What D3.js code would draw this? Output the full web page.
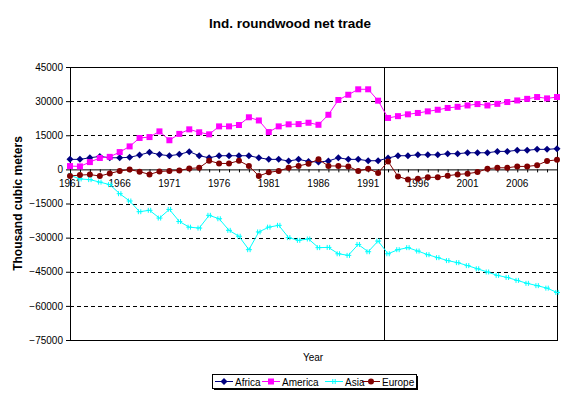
<!DOCTYPE html>
<html>
<head>
<meta charset="utf-8">
<script src="https://cdn.jsdelivr.net/npm/d3@7"></script>
<style>
  body { margin: 0; background: #fff; }
  svg { font-family: "Liberation Sans", Arial, sans-serif; }
</style>
</head>
<body>
<svg id="chart" width="579" height="396"></svg>
<script>
// Data, 1961-2010, thousand cubic meters
var years = d3.range(1961, 2011);
var africa = [4400, 4400, 5100, 5700, 5100, 5100, 5300, 6300, 7500, 6500,
  6000, 6600, 7800, 6000, 5100, 6000, 6000, 6000, 6000, 5100,
  4400, 4400, 3700, 4400, 3500, 3200, 3700, 5100, 4400, 4400,
  3800, 3800, 5000, 6000, 6000, 6400, 6400, 6400, 6900, 6900,
  7300, 7300, 7300, 7900, 7900, 8400, 8400, 8800, 8800, 9100];
var america = [1450, 1300, 3200, 5000, 5500, 7600, 10100, 13800, 14200, 16700,
  12800, 15600, 17600, 16300, 15400, 18900, 18900, 19500, 22900, 21500,
  16400, 18900, 19800, 19900, 20500, 19600, 24000, 30500, 32800, 35200,
  35200, 30200, 22600, 23400, 24200, 24800, 25500, 26200, 27000, 27500,
  28100, 28700, 28100, 28800, 29600, 30300, 31000, 31800, 31200, 31800];
var asia = [-2600, -4200, -4500, -5600, -6700, -10700, -13900, -18600, -18000, -21400,
  -17600, -22900, -25400, -25800, -20200, -21700, -26800, -29400, -35300, -27500,
  -25400, -24600, -30000, -31200, -30600, -34400, -34300, -37100, -37800, -33000,
  -36200, -31500, -37100, -35300, -34400, -35900, -37500, -38800, -40100, -41000,
  -42300, -43700, -45100, -46600, -47500, -48800, -50100, -51100, -52200, -54100];
var europe = [-2900, -2500, -2300, -2900, -1800, -700, -100, -1000, -2200, -900,
  -700, -500, 400, 700, 3800, 2600, 2600, 3800, 1500, -2900,
  -1300, -700, 700, 1500, 2500, 4400, 1500, 1500, 1300, -700,
  300, -1600, 3500, -3100, -4500, -4100, -3500, -3500, -2800, -2200,
  -1900, -1200, 300, 700, 700, 1300, 1300, 1800, 3700, 4200];
var yTicks = [45000, 30000, 15000, 0, -15000, -30000, -45000, -60000, -75000];
var yearLabels = d3.range(1961, 2010, 5);
var breakYear = 1992.65;

var seriesList = [
  { name: "Africa", values: africa, color: "#000080", marker: "diamond" },
  { name: "America", values: america, color: "#ff00ff", marker: "square" },
  { name: "Asia", values: asia, color: "#00ffff", marker: "cross" },
  { name: "Europe", values: europe, color: "#800000", marker: "circle" }
];

var svg = d3.select("#chart");
var plotLeft = 70, plotRight = 557, plotTop = 67, plotBottom = 340;

var x = d3.scaleLinear().domain([1961, 2010]).range([plotLeft, plotRight]);
var y = d3.scaleLinear().domain([-75000, 45000]).range([plotBottom, plotTop]);

// title
svg.append("text")
  .attr("x", 290).attr("y", 28)
  .attr("text-anchor", "middle")
  .style("font-size", "13.5px").style("font-weight", "bold")
  .text("Ind. roundwood net trade");

// dashed gridlines
svg.append("g").selectAll("line")
  .data(yTicks.filter(function(d) { return d !== 0 && d !== 45000 && d !== -75000; }))
  .enter().append("line")
  .attr("x1", plotLeft).attr("x2", plotRight)
  .attr("y1", function(d) { return Math.round(y(d)) + 0.5; })
  .attr("y2", function(d) { return Math.round(y(d)) + 0.5; })
  .attr("stroke", "#000")
  .attr("stroke-dasharray", "4,3");

// frame
svg.append("rect")
  .attr("x", plotLeft + 0.5).attr("y", plotTop + 0.5)
  .attr("width", plotRight - plotLeft).attr("height", plotBottom - plotTop)
  .attr("fill", "none").attr("stroke", "#000");

// y axis
var yAxis = d3.axisLeft(y).tickValues(yTicks).tickSize(4).tickFormat(d3.format("d"));
var gy = svg.append("g").attr("transform", "translate(" + plotLeft + ",0)").call(yAxis);
gy.select(".domain").remove();
gy.selectAll("text").style("font-size", "10px").attr("fill", "#000").attr("x", -7);
gy.selectAll("line").attr("stroke", "#000");

// x axis along zero line
var xAxis = d3.axisBottom(x).tickValues(years).tickSize(3).tickFormat("");
var gx = svg.append("g").attr("transform", "translate(0," + y(0) + ")").call(xAxis);
gx.select(".domain").attr("stroke", "#000");
gx.selectAll("line").attr("stroke", "#000");
gx.selectAll(".label")
  .data(yearLabels)
  .enter().append("text")
  .attr("class", "label")
  .attr("x", function(d) { return x(d); })
  .attr("y", 18)
  .attr("text-anchor", "middle")
  .attr("fill", "#000")
  .style("font-size", "10px")
  .text(function(d) { return d; });

// vertical break line
svg.append("line")
  .attr("x1", x(breakYear)).attr("x2", x(breakYear))
  .attr("y1", plotTop).attr("y2", plotBottom)
  .attr("stroke", "#000")
  .attr("shape-rendering", "crispEdges");

// axis titles
svg.append("text")
  .attr("transform", "translate(22," + ((plotTop + plotBottom) / 2) + ") rotate(-90)")
  .attr("text-anchor", "middle")
  .style("font-size", "12px").style("font-weight", "bold")
  .text("Thousand cubic meters");

svg.append("text")
  .attr("x", 313).attr("y", 361)
  .attr("text-anchor", "middle")
  .style("font-size", "10px")
  .text("Year");

function drawMarker(g, type, color) {
  if (type === "diamond") {
    g.append("path").attr("d", "M0,-3.5L3.5,0L0,3.5L-3.5,0Z").attr("fill", color);
  } else if (type === "square") {
    g.append("rect").attr("x", -3).attr("y", -3).attr("width", 6).attr("height", 6).attr("fill", color);
  } else if (type === "circle") {
    g.append("circle").attr("r", 3).attr("fill", color);
  } else {
    g.append("path").attr("d", "M-3,0H3M-1.2,-2.5V2.5M1.2,-2.5V2.5")
      .attr("stroke", color).attr("stroke-width", 1).attr("fill", "none");
  }
}

var line = d3.line()
  .x(function(d, i) { return x(years[i]); })
  .y(function(d) { return y(d); });

seriesList.forEach(function(s) {
  var g = svg.append("g");
  g.append("path")
    .datum(s.values)
    .attr("d", line)
    .attr("fill", "none")
    .attr("stroke", s.color)
    .attr("stroke-width", 1);
  g.selectAll(".pt")
    .data(s.values)
    .enter().append("g")
    .attr("class", "pt")
    .attr("transform", function(d, i) { return "translate(" + x(years[i]) + "," + y(d) + ")"; })
    .each(function() { drawMarker(d3.select(this), s.marker, s.color); });
});

// legend
var legX = 212, legY = 374, legW = 204, legH = 14;
svg.append("rect")
  .attr("x", legX + 2).attr("y", legY + 2)
  .attr("width", legW).attr("height", legH)
  .attr("fill", "#000");
svg.append("rect")
  .attr("x", legX + 0.5).attr("y", legY + 0.5)
  .attr("width", legW).attr("height", legH)
  .attr("fill", "#fff").attr("stroke", "#000");

var legOffsets = [3, 50, 113, 150];
seriesList.forEach(function(s, i) {
  var g = svg.append("g").attr("transform", "translate(" + (legX + legOffsets[i]) + "," + (legY + legH / 2 + 0.5) + ")");
  g.append("line").attr("x1", 0).attr("x2", 18).attr("stroke", s.color);
  var m = g.append("g").attr("transform", "translate(9,0)");
  drawMarker(m, s.marker, s.color);
  g.append("text")
    .attr("x", 20).attr("y", 4)
    .style("font-size", "10px")
    .text(s.name);
});
</script>
</body>
</html>
